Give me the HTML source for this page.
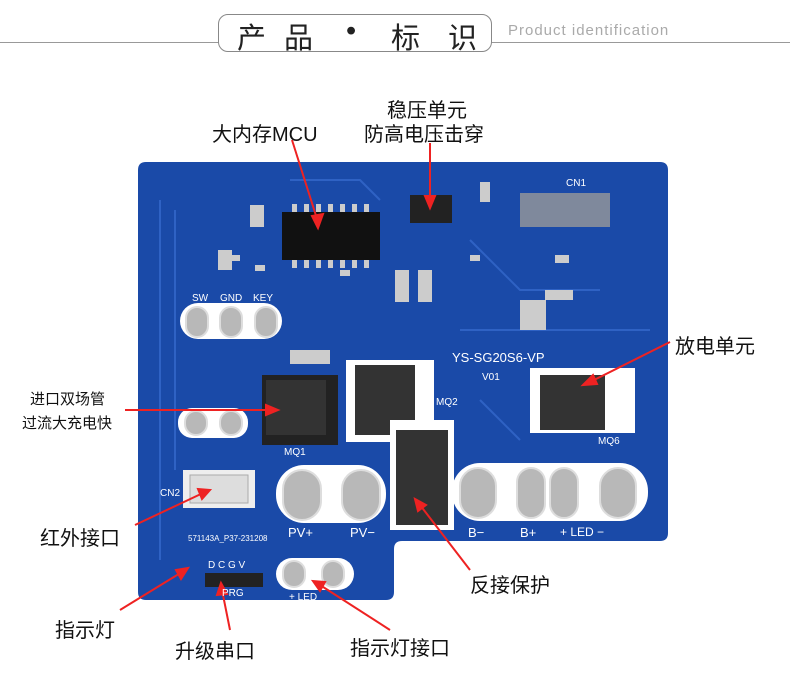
<!DOCTYPE html>
<html><head><meta charset="utf-8"><style>
body{margin:0;width:790px;height:697px;background:#fff;position:relative;overflow:hidden;font-family:"Liberation Sans","Noto Sans CJK SC",sans-serif}
.a{position:absolute}
.t{position:absolute;top:15px;font-size:29px;color:#222}
.lbl{position:absolute;font-size:20px;color:#111;white-space:nowrap}
.s{position:absolute;color:#fff;font-size:10px;white-space:nowrap}
</style></head><body>
<div class="a" style="left:0;top:42px;width:790px;height:1px;background:#999"></div>
<div class="a" style="left:218px;top:14px;width:272px;height:36px;border:1px solid #888;border-radius:10px;background:#fff"></div>
<div class="t" style="left:237px">产</div><div class="t" style="left:284px">品</div><div class="t" style="left:346px">•</div><div class="t" style="left:391px">标</div><div class="t" style="left:448px">识</div>
<div class="a" style="left:508px;top:22px;font-size:15px;color:#aaa;letter-spacing:1px">Product identification</div>

<svg class="a" style="left:0;top:0" width="790" height="697">
<path d="M146,162 L660,162 Q668,162 668,170 L668,533 Q668,541 660,541 L402,541 Q394,541 394,549 L394,592 Q394,600 386,600 L146,600 Q138,600 138,592 L138,170 Q138,162 146,162Z" fill="#1a4aa8"/>
<g stroke="#2f62c4" stroke-width="2" fill="none">
<path d="M160,200 L160,560"/><path d="M175,210 L175,470"/><path d="M290,180 L360,180 L380,200"/><path d="M470,240 L520,290 L600,290"/><path d="M460,330 L650,330"/><path d="M480,400 L520,440"/>
</g>
<g fill="#b8b8b8" stroke="#ddd" stroke-width="2">
<rect x="180" y="303" width="102" height="36" rx="18" fill="#fff" stroke="none"/>
<rect x="186" y="307" width="22" height="30" rx="11"/><rect x="220" y="307" width="22" height="30" rx="11"/><rect x="255" y="307" width="22" height="30" rx="11"/>
<rect x="178" y="408" width="70" height="30" rx="14" fill="#fff" stroke="none"/>
<rect x="185" y="411" width="22" height="24" rx="11"/><rect x="220" y="411" width="22" height="24" rx="11"/>
<rect x="276" y="465" width="110" height="58" rx="28" fill="#fff" stroke="none"/>
<rect x="283" y="470" width="38" height="50" rx="19"/><rect x="342" y="470" width="38" height="50" rx="19"/>
<rect x="452" y="463" width="196" height="58" rx="28" fill="#fff" stroke="none"/>
<rect x="460" y="468" width="36" height="50" rx="18"/><rect x="517" y="468" width="28" height="50" rx="14"/><rect x="550" y="468" width="28" height="50" rx="14"/><rect x="600" y="468" width="36" height="50" rx="18"/>
<rect x="276" y="558" width="78" height="32" rx="16" fill="#fff" stroke="none"/>
<rect x="283" y="561" width="22" height="26" rx="11"/><rect x="322" y="561" width="22" height="26" rx="11"/>
</g>
<rect x="282" y="212" width="98" height="48" fill="#111"/>
<g fill="#ccc"><rect x="292" y="204" width="5" height="8"/><rect x="304" y="204" width="5" height="8"/><rect x="316" y="204" width="5" height="8"/><rect x="328" y="204" width="5" height="8"/><rect x="340" y="204" width="5" height="8"/><rect x="352" y="204" width="5" height="8"/><rect x="364" y="204" width="5" height="8"/>
<rect x="292" y="260" width="5" height="8"/><rect x="304" y="260" width="5" height="8"/><rect x="316" y="260" width="5" height="8"/><rect x="328" y="260" width="5" height="8"/><rect x="340" y="260" width="5" height="8"/><rect x="352" y="260" width="5" height="8"/><rect x="364" y="260" width="5" height="8"/></g>
<rect x="410" y="195" width="42" height="28" fill="#222"/>
<rect x="262" y="375" width="76" height="70" fill="#222"/><rect x="266" y="380" width="60" height="55" fill="#333"/>
<rect x="346" y="360" width="88" height="82" fill="#fff"/><rect x="355" y="365" width="60" height="70" fill="#333"/>
<rect x="390" y="420" width="64" height="110" fill="#fff"/><rect x="396" y="430" width="52" height="95" fill="#333"/>
<rect x="530" y="368" width="105" height="65" fill="#fff"/><rect x="540" y="375" width="65" height="55" fill="#333"/>
<rect x="183" y="470" width="72" height="38" fill="#eee"/><rect x="190" y="475" width="58" height="28" fill="#ddd" stroke="#aaa"/>
<rect x="520" y="193" width="90" height="34" fill="#999" opacity=".8"/>
<rect x="205" y="573" width="58" height="14" fill="#222"/>
<g fill="#ccc"><rect x="230" y="255" width="10" height="6"/><rect x="255" y="265" width="10" height="6"/><rect x="340" y="270" width="10" height="6"/><rect x="470" y="255" width="10" height="6"/><rect x="395" y="270" width="14" height="32"/><rect x="418" y="270" width="14" height="32"/><rect x="520" y="300" width="26" height="30"/><rect x="555" y="255" width="14" height="8"/>
<rect x="250" y="205" width="14" height="22"/><rect x="218" y="250" width="14" height="20"/><rect x="480" y="182" width="10" height="20"/><rect x="545" y="290" width="28" height="10"/><rect x="290" y="350" width="40" height="14"/></g>
<g stroke="#e22" stroke-width="2" fill="#e22">
<line x1="292" y1="140" x2="318" y2="222"/><polygon points="318,228 312,216 323,214"/>
<line x1="430" y1="143" x2="430" y2="200"/><polygon points="430,208 425,196 435,196"/>
<line x1="670" y1="342" x2="590" y2="382"/><polygon points="583,385 593,375 597,384"/>
<line x1="125" y1="410" x2="270" y2="410"/><polygon points="278,410 266,405 266,415"/>
<line x1="135" y1="525" x2="203" y2="493"/><polygon points="210,490 198,489 202,499"/>
<line x1="120" y1="610" x2="182" y2="572"/><polygon points="188,568 176,570 181,579"/>
<line x1="230" y1="630" x2="222" y2="590"/><polygon points="221,583 217,595 227,594"/>
<line x1="470" y1="570" x2="420" y2="505"/><polygon points="415,499 418,511 426,505"/>
<line x1="390" y1="630" x2="320" y2="585"/><polygon points="313,581 320,591 325,582"/>
</g>
</svg>
<div class="s" style="left:192px;top:293px">SW</div><div class="s" style="left:220px;top:293px">GND</div><div class="s" style="left:253px;top:293px">KEY</div>
<div class="s" style="left:452px;top:350px;font-size:13px">YS-SG20S6-VP</div>
<div class="s" style="left:482px;top:372px">V01</div>
<div class="s" style="left:288px;top:525px;font-size:13px">PV+</div><div class="s" style="left:350px;top:525px;font-size:13px">PV−</div>
<div class="s" style="left:468px;top:525px;font-size:13px">B−</div><div class="s" style="left:520px;top:525px;font-size:13px">B+</div><div class="s" style="left:560px;top:525px;font-size:12px">+ LED −</div>
<div class="s" style="left:289px;top:592px">+ LED</div>
<div class="s" style="left:208px;top:560px">D C G V</div><div class="s" style="left:222px;top:588px">PRG</div>
<div class="s" style="left:188px;top:534px;font-size:8px">571143A_P37-231208</div>
<div class="s" style="left:566px;top:178px">CN1</div><div class="s" style="left:160px;top:488px">CN2</div>
<div class="s" style="left:598px;top:436px">MQ6</div><div class="s" style="left:284px;top:447px">MQ1</div><div class="s" style="left:436px;top:397px">MQ2</div>
<div class="lbl" style="left:387px;top:94px">稳压单元</div>
<div class="lbl" style="left:364px;top:118px">防高电压击穿</div>
<div class="lbl" style="left:212px;top:118px">大内存MCU</div>
<div class="lbl" style="left:675px;top:330px">放电单元</div>
<div class="lbl" style="left:30px;top:388px;font-size:15px">进口双场管</div>
<div class="lbl" style="left:22px;top:412px;font-size:15px">过流大充电快</div>
<div class="lbl" style="left:40px;top:522px">红外接口</div>
<div class="lbl" style="left:55px;top:614px">指示灯</div>
<div class="lbl" style="left:175px;top:635px">升级串口</div>
<div class="lbl" style="left:470px;top:569px">反接保护</div>
<div class="lbl" style="left:350px;top:632px">指示灯接口</div>
</body></html>
